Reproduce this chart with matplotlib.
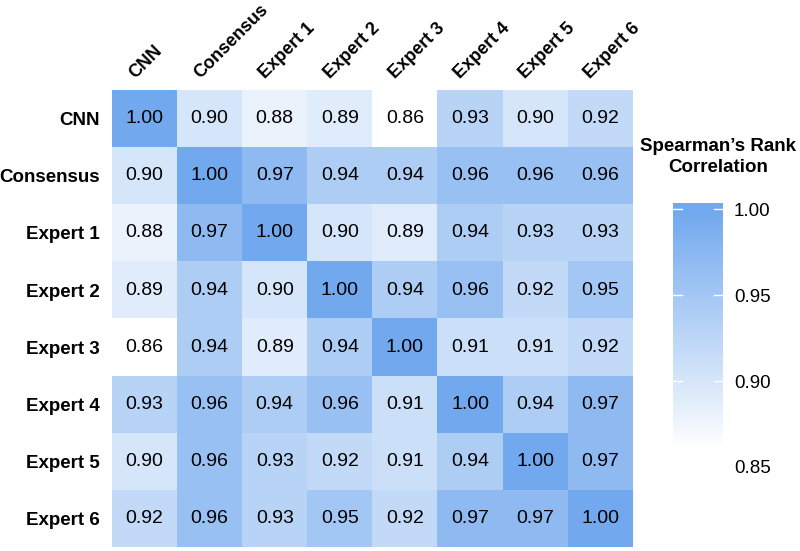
import numpy as np
import matplotlib.pyplot as plt
from matplotlib.colors import LinearSegmentedColormap

plt.rcParams['font.family'] = ['Liberation Sans', 'DejaVu Sans']

labels = ['CNN', 'Consensus', 'Expert 1', 'Expert 2', 'Expert 3', 'Expert 4', 'Expert 5', 'Expert 6']
corr = [
    [1.00, 0.90, 0.88, 0.89, 0.86, 0.93, 0.90, 0.92],
    [0.90, 1.00, 0.97, 0.94, 0.94, 0.96, 0.96, 0.96],
    [0.88, 0.97, 1.00, 0.90, 0.89, 0.94, 0.93, 0.93],
    [0.89, 0.94, 0.90, 1.00, 0.94, 0.96, 0.92, 0.95],
    [0.86, 0.94, 0.89, 0.94, 1.00, 0.91, 0.91, 0.92],
    [0.93, 0.96, 0.94, 0.96, 0.91, 1.00, 0.94, 0.97],
    [0.90, 0.96, 0.93, 0.92, 0.91, 0.94, 1.00, 0.97],
    [0.92, 0.96, 0.93, 0.95, 0.92, 0.97, 0.97, 1.00],
]
cbar_ticks = [0.85, 0.90, 0.95, 1.00]

data = np.array(corr)
cmap = LinearSegmentedColormap.from_list('wb', ['#ffffff', '#71a8ee'])
cmap.set_under('#ffffff')
vmin, vmax = 0.86, 1.0

fig = plt.figure(figsize=(8, 5.51), dpi=100)
ax = fig.add_axes([0.14, 0.0073, 0.651, 0.829])
ax.imshow(data, cmap=cmap, vmin=vmin, vmax=vmax, aspect='auto')

n = len(labels)
for i in range(n):
    for j in range(n):
        ax.text(j, i, f'{data[i, j]:.2f}', ha='center', va='center', fontsize=14)

ax.set_xticks([])
ax.set_yticks(range(n))
ax.set_yticklabels(labels, fontsize=13.5, fontweight='bold')
ax.tick_params(axis='y', length=0, pad=9)
# column labels, rotated above the grid
for i, lab in enumerate(labels):
    ax.text(i - 0.15, -0.7, lab, rotation=45, rotation_mode='anchor',
            ha='left', va='baseline', fontsize=13, fontweight='bold')
for s in ax.spines.values():
    s.set_visible(False)

# colorbar
cax = fig.add_axes([0.841, 0.1525, 0.0625, 0.479])
grad = np.linspace(0.85, 1.0035, 256).reshape(-1, 1)
cax.imshow(grad, cmap=cmap, vmin=vmin, vmax=vmax, aspect='auto', origin='lower',
           extent=[0, 1, 0.85, 1.0035])
cax.set_xlim(0, 1)
cax.set_ylim(0.85, 1.0035)
cax.set_xticks([])
cax.yaxis.tick_right()
cax.set_yticks(cbar_ticks)
cax.set_yticklabels([f'{t:.2f}' for t in cbar_ticks], fontsize=13.5)
cax.tick_params(axis='y', length=0, pad=8)
for t in cbar_ticks:
    cax.plot([0, 0.18], [t, t], color='white', lw=1)
    cax.plot([0.82, 1], [t, t], color='white', lw=1)
for s in cax.spines.values():
    s.set_visible(False)

fig.text(0.8975, 0.715, 'Spearman\u2019s Rank\nCorrelation', ha='center', va='center',
         fontsize=13.5, fontweight='bold', linespacing=1.25)

fig.savefig('out.png', dpi=100)
